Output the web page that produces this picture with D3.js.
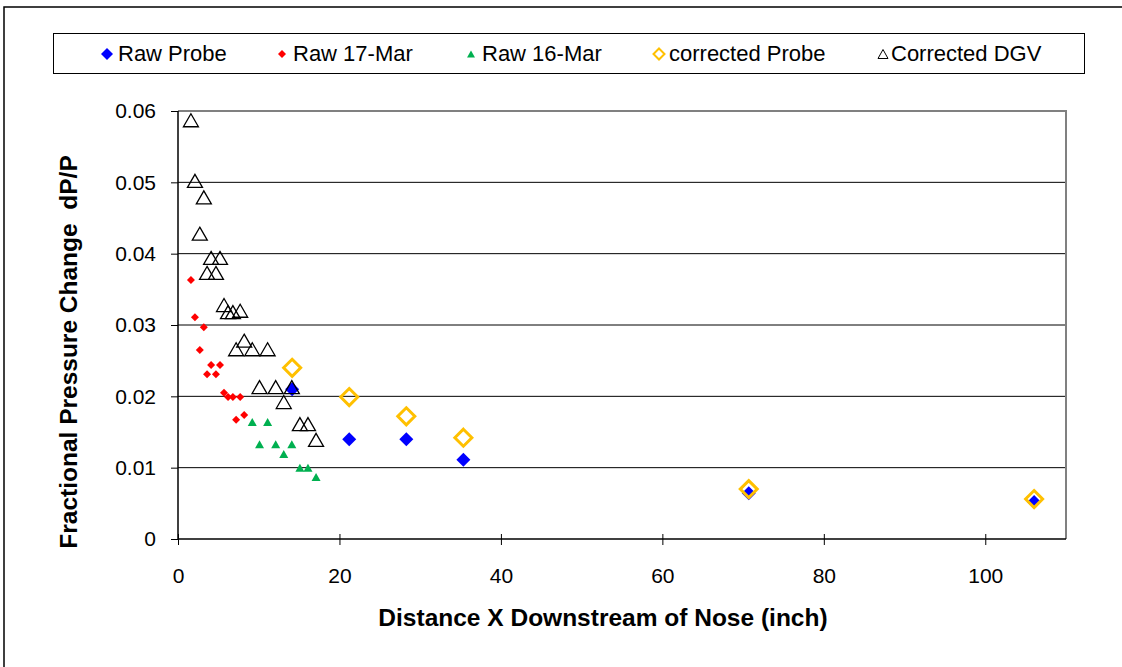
<!DOCTYPE html>
<html>
<head>
<meta charset="utf-8">
<script src="https://cdn.jsdelivr.net/npm/d3@7"></script>
<style>
body { margin: 0; background: #fff; }
text { font-family: "Liberation Sans", Arial, sans-serif; }
</style>
</head>
<body>
<svg id="chart" width="1122" height="667"></svg>
<script>
// series values
var probeX = [14.14, 21.21, 28.28, 35.35, 70.7, 106.05];
var rawProbeY = [0.0210, 0.0140, 0.0140, 0.0111, 0.0064, 0.0052];
var corrProbeY = [0.0240, 0.0199, 0.0172, 0.0142, 0.0070, 0.0056];

var mar17X = [1.6, 2.1, 3.2, 2.7, 4.1, 5.2, 3.6, 4.7, 5.7, 6.2, 6.8, 7.7, 7.2, 8.2];
var mar17Y = [0.0363, 0.0311, 0.0297, 0.0265, 0.0244, 0.0244, 0.0231, 0.0231, 0.0205, 0.0199, 0.0199, 0.0199, 0.0167, 0.0174];

var mar16X = [9.2, 11.1, 10.1, 12.1, 14.1, 13.1, 15.1, 16.1, 17.1];
var mar16Y = [0.0164, 0.0164, 0.0133, 0.0133, 0.0133, 0.0119, 0.0100, 0.0100, 0.0087];

var dgvX = [1.6, 2.1, 3.2, 2.7, 4.1, 5.2, 3.6, 4.7, 5.7, 6.2, 6.8, 7.7, 7.2, 8.2, 9.2, 11.1, 10.1, 12.1, 14.1, 13.1, 15.1, 16.1, 17.1];
var dgvY = [0.0587, 0.0502, 0.0479, 0.0428, 0.0394, 0.0394, 0.0373, 0.0373, 0.0328, 0.0318, 0.0318, 0.0320, 0.0266, 0.0278, 0.0266, 0.0266, 0.0213, 0.0213, 0.0213, 0.0192, 0.0161, 0.0161, 0.0139];

var xTicks = [0, 20, 40, 60, 80, 100];
var yTicks = [0, 0.01, 0.02, 0.03, 0.04, 0.05, 0.06];
var legendNames = ["Raw Probe", "Raw 17-Mar", "Raw 16-Mar", "corrected Probe", "Corrected DGV"];

var svg = d3.select("#chart");

// outer frame
svg.append("rect")
    .attr("x", 4).attr("y", 7)
    .attr("width", 1140).attr("height", 700)
    .attr("fill", "white")
    .attr("stroke", "black")
    .attr("stroke-width", 1.5);

var plotL = 178, plotR = 1066, plotT = 111, plotB = 539;

var x = d3.scaleLinear().domain([0, 110]).range([plotL, plotR]);
var y = d3.scaleLinear().domain([0, 0.06]).range([plotB, plotT]);

// gridlines
svg.append("g").selectAll("line")
    .data(yTicks.slice(1, 6))
    .enter().append("line")
    .attr("x1", plotL).attr("x2", plotR)
    .attr("y1", d => y(d)).attr("y2", d => y(d))
    .attr("stroke", "black")
    .attr("stroke-width", 1);

// plot border (top/right grey)
svg.append("path")
    .attr("d", "M" + plotL + "," + plotT + "H" + plotR + "V" + plotB)
    .attr("fill", "none")
    .attr("stroke", "#808080")
    .attr("stroke-width", 2);

var xAxis = svg.append("g")
    .attr("transform", "translate(0," + plotB + ")")
    .call(d3.axisBottom(x).tickValues(xTicks).tickSize(6).tickPadding(23).tickFormat(d3.format("d")));
var yAxis = svg.append("g")
    .attr("transform", "translate(" + plotL + ",0)")
    .call(d3.axisLeft(y).tickValues(yTicks).tickSize(7).tickPadding(15).tickFormat(d => d === 0 ? "0" : d3.format(".2f")(d)));

[xAxis, yAxis].forEach(function(a) {
    a.select(".domain").attr("stroke", "black").attr("stroke-width", 1.5);
    a.selectAll(".tick line").attr("stroke", "black");
    a.selectAll(".tick text")
        .attr("fill", "black")
        .style("font-family", "'Liberation Sans', Arial, sans-serif")
        .style("font-size", "21px");
});
xAxis.selectAll(".tick line").attr("y1", -5);
xAxis.select(".domain").attr("d", "M" + plotL + ",0H" + plotR);
yAxis.select(".domain").attr("d", "M0," + plotB + "V" + plotT);

// axis titles
svg.append("text")
    .attr("x", 603).attr("y", 626)
    .attr("text-anchor", "middle")
    .style("font-size", "24.5px")
    .style("font-weight", "bold")
    .text("Distance X Downstream of Nose (inch)");

svg.append("text")
    .attr("transform", "translate(77,352) rotate(-90)")
    .attr("text-anchor", "middle")
    .style("font-size", "24.5px")
    .style("font-weight", "bold")
    .style("white-space", "pre")
    .text("Fractional Pressure Change  dP/P");

// marker shapes
function diamond(s) { return "M0," + (-s) + "L" + s + ",0L0," + s + "L" + (-s) + ",0Z"; }
function triangle(w, h) { return "M0," + (-h / 2) + "L" + (w / 2) + "," + (h / 2) + "L" + (-w / 2) + "," + (h / 2) + "Z"; }

function plotSeries(xs, ys, shape, fill, stroke, sw) {
    svg.append("g").selectAll("path")
        .data(xs.map((v, i) => [v, ys[i]]))
        .enter().append("path")
        .attr("transform", d => "translate(" + x(d[0]) + "," + y(d[1]) + ")")
        .attr("d", shape)
        .attr("fill", fill)
        .attr("stroke", stroke)
        .attr("stroke-width", sw);
}

plotSeries(probeX, rawProbeY, diamond(7), "#0000ff", "none", 0);
plotSeries(mar17X, mar17Y, diamond(4), "#ff0000", "none", 0);
plotSeries(mar16X, mar16Y, triangle(9, 8), "#00b050", "none", 0);
plotSeries(probeX, corrProbeY, diamond(8.5), "none", "#ffc000", 3);
plotSeries(dgvX, dgvY, triangle(15, 13), "none", "#000000", 1.3);

// legend
svg.append("rect")
    .attr("x", 53.5).attr("y", 33.5)
    .attr("width", 1031).attr("height", 40)
    .attr("fill", "white")
    .attr("stroke", "black")
    .attr("stroke-width", 1);

var legendMarkers = [
    {mx: 107, tx: 118, d: diamond(6), fill: "#0000ff", stroke: "none", sw: 0},
    {mx: 282, tx: 293, d: diamond(4), fill: "#ff0000", stroke: "none", sw: 0},
    {mx: 471, tx: 482, d: triangle(8, 7), fill: "#00b050", stroke: "none", sw: 0},
    {mx: 659, tx: 669, d: diamond(5.5), fill: "none", stroke: "#ffc000", sw: 2},
    {mx: 883, tx: 891, d: triangle(10, 9), fill: "none", stroke: "#000000", sw: 1}
];
var lg = svg.append("g").selectAll("g")
    .data(legendNames)
    .enter().append("g");
lg.append("path")
    .attr("transform", (d, i) => "translate(" + legendMarkers[i].mx + ",54)")
    .attr("d", (d, i) => legendMarkers[i].d)
    .attr("fill", (d, i) => legendMarkers[i].fill)
    .attr("stroke", (d, i) => legendMarkers[i].stroke)
    .attr("stroke-width", (d, i) => legendMarkers[i].sw);
lg.append("text")
    .attr("x", (d, i) => legendMarkers[i].tx).attr("y", 61)
    .style("font-size", "22px")
    .text(d => d);
</script>
</body>
</html>
